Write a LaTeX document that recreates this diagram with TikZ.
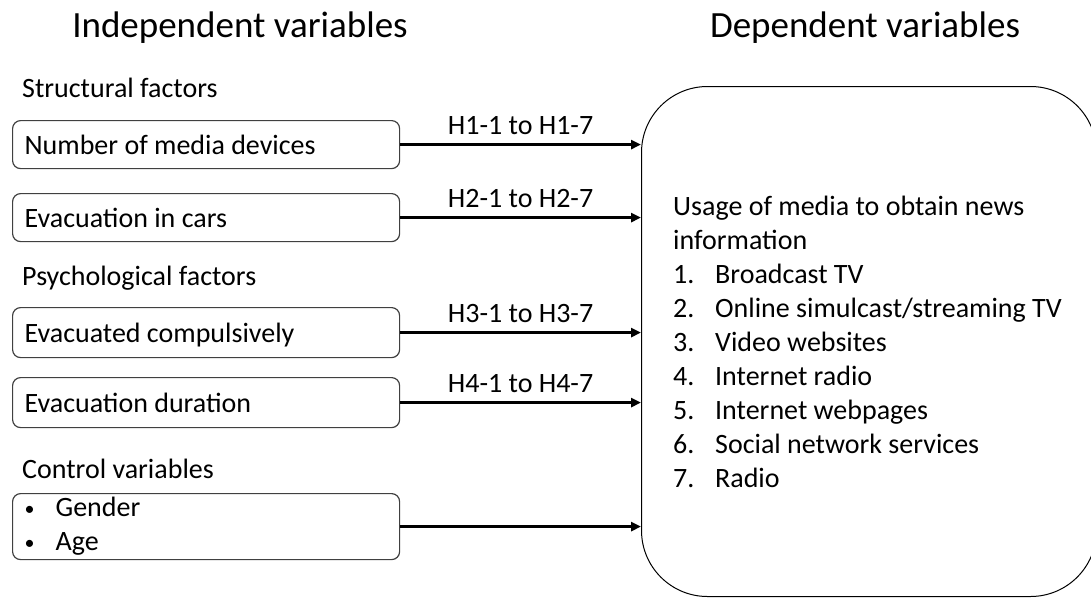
\documentclass[tikz,border=0pt]{standalone}
\usepackage{fontspec}
\setmainfont{Carlito}
\usetikzlibrary{arrows.meta}
\newcommand{\cvbullet}{\makebox[31pt][l]{\raisebox{1.5pt}{\fontsize{20}{20}\selectfont\textbullet}}}
\begin{document}
\begin{tikzpicture}[x = 1pt, y = -1pt,
  font = \fontsize{28}{34}\selectfont,
  title/.style = {anchor = base, font = \fontsize{37}{44}\selectfont},
  group/.style = {anchor = base west, inner sep = 0pt},
  ivbox/.style = {draw = black!75, line width = 1.2pt, rounded corners = 8pt, anchor = north west,
    text width = 363pt, inner xsep = 12pt, inner ysep = 0pt, align = flush left, text height = 21pt, text depth = 2pt},
  dvbox/.style = {draw, line width = 1pt, rounded corners = 66pt, anchor = north west, inner sep = 0pt,
    minimum width = 455pt, minimum height = 510pt},
  hyp/.style = {-{Triangle[length = 10pt, width = 9pt]}, line width = 2.6pt},
  hyplabel/.style = {above, inner sep = 0pt, yshift = 9pt}]
\useasboundingbox (0,0) rectangle (1091,597);
\clip (0,0) rectangle (1091,597);
\node (IVtitle) [title] at (240,37) {Independent variables};
\node (DVtitle) [title] at (865,37) {Dependent variables};
\node (SF) [group] at (22,97) {Structural factors};
\node (PF) [group] at (22,285) {Psychological factors};
\node (CF) [group] at (22,478) {Control variables};
\node (NMD) [ivbox, minimum height = 48pt] at (12,120) {Number of media devices};
\node (EIC) [ivbox, minimum height = 48pt] at (12,193) {Evacuation in cars};
\node (EC) [ivbox, minimum height = 50pt] at (12,307) {Evacuated compulsively};
\node (ED) [ivbox, minimum height = 50pt] at (12,377) {Evacuation duration};
\node (CV) [ivbox, minimum height = 66pt, text height = {}, text depth = {}] at (12,493)
  {\cvbullet Gender\\\cvbullet Age};
\node (DV) [dvbox] at (641,86) {};
\node (DVlist) [anchor = base west, inner sep = 0pt] at (673,215) {\begin{tabular}[t]{@{}l@{}}
Usage of media to obtain news\\
information\\
\makebox[42pt][l]{1.}Broadcast TV\\
\makebox[42pt][l]{2.}Online simulcast/streaming TV\\
\makebox[42pt][l]{3.}Video websites\\
\makebox[42pt][l]{4.}Internet radio\\
\makebox[42pt][l]{5.}Internet webpages\\
\makebox[42pt][l]{6.}Social network services\\
\makebox[42pt][l]{7.}Radio
\end{tabular}};
\draw [hyp] (NMD.east) -- (NMD.east -| DV.west) node [hyplabel, midway] {H1-1 to H1-7};
\draw [hyp] (EIC.east) -- (EIC.east -| DV.west) node [hyplabel, midway] {H2-1 to H2-7};
\draw [hyp] (EC.east) -- (EC.east -| DV.west) node [hyplabel, midway] {H3-1 to H3-7};
\draw [hyp] (ED.east) -- (ED.east -| DV.west) node [hyplabel, midway] {H4-1 to H4-7};
\draw [hyp] (CV.east) -- (CV.east -| DV.west);
\end{tikzpicture}
\end{document}
